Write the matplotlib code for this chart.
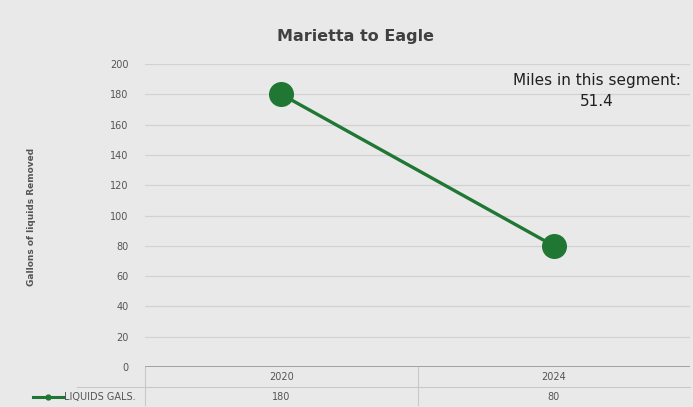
import matplotlib.pyplot as plt
from matplotlib.lines import Line2D

# data
years = ['2020', '2024']
liquids = [180, 80]
yticks = list(range(0, 201, 20))
miles = '51.4'

green = '#1f7733'
bg = '#e9e9e9'

fig = plt.figure(figsize=(6.93, 4.07), dpi=100, facecolor=bg)
ax = fig.add_axes([145/693, 40/407, 545/693, 303/407], facecolor=bg)

xpos = [i + 0.5 for i in range(len(years))]
ax.plot(xpos, liquids, color=green, linewidth=2.4, marker='o',
        markersize=17, markerfacecolor=green, markeredgecolor=green, zorder=3)

ax.set_xlim(0, len(years))
ax.set_ylim(0, 200)
ax.set_yticks(yticks)
ax.set_yticklabels([str(v) for v in yticks], fontsize=7, color='#555555')
ax.tick_params(axis='y', length=0, pad=12)
ax.set_xticks([])
for s in ax.spines.values():
    s.set_visible(False)
for v in yticks[1:]:
    ax.axhline(v, color='#d2d2d2', linewidth=0.9, zorder=1)
ax.axhline(0, color='#8c8c8c', linewidth=1.8, zorder=2)

# data table under the axis
tr = ax.get_xaxis_transform()
row1, row2, mid, bot = -0.033, -0.099, -0.066, -0.125
ax.add_line(Line2D([1, 1], [0, bot], transform=tr, color='#c8c8c8', lw=0.8, clip_on=False))
ax.add_line(Line2D([0, 0], [0, bot], transform=tr, color='#c8c8c8', lw=0.8, clip_on=False))
ax.add_line(Line2D([-0.25, 2], [mid, mid], transform=tr, color='#c8c8c8', lw=0.8, clip_on=False))
for x, yr, v in zip(xpos, years, liquids):
    ax.text(x, row1, yr, transform=tr, ha='center', va='center', fontsize=7, color='#555555')
    ax.text(x, row2, str(v), transform=tr, ha='center', va='center', fontsize=7, color='#555555')

# legend key in the table
fig.add_artist(Line2D([33/693, 64/693], [10/407, 10/407], color=green, lw=2.2))
fig.add_artist(Line2D([48/693], [10/407], color=green, marker='o', markersize=3.5))
fig.text(64/693, 10/407, 'LIQUIDS GALS.', ha='left', va='center', fontsize=7, color='#555555')

fig.text(32/693, 1 - 217/407, 'Gallons of liquids Removed', rotation=90, ha='center',
         va='center', fontsize=6.5, fontweight='bold', color='#555555')

fig.text(355/693, 1 - 36/407, 'Marietta to Eagle', ha='center', va='center',
         fontsize=11.5, fontweight='bold', color='#404040')
fig.text(597/693, 1 - 80/407, 'Miles in this segment:', ha='center', va='center',
         fontsize=11, color='#202020')
fig.text(597/693, 1 - 101/407, miles, ha='center', va='center', fontsize=11, color='#202020')

plt.savefig('out.png', dpi=100, facecolor=bg)
